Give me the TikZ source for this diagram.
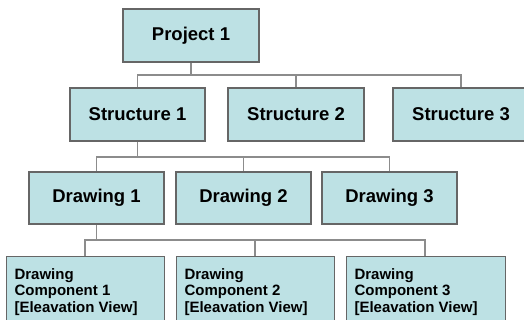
\documentclass[tikz,border=0pt]{standalone}
\usepackage{fontspec}
\setmainfont{Liberation Sans}
\definecolor{boxfill}{HTML}{BDE1E4}
\definecolor{boxline}{HTML}{666666}
\definecolor{connline}{HTML}{8C8C8C}
\begin{document}
\begin{tikzpicture}[x=1pt,y=-1pt,
  box/.style={draw=boxline,fill=boxfill,line width=1.05pt,minimum width=135pt,minimum height=53pt,inner sep=0pt,
    font=\fontsize{18.5}{20}\selectfont\bfseries},
  leafbox/.style={draw=boxline,fill=boxfill,line width=1.05pt,anchor=north west,inner xsep=8pt,inner ysep=11.2pt,
    font=\fontsize{15}{16.5}\selectfont\bfseries},
  conn/.style={draw=connline,line width=1.4pt}]
\useasboundingbox (0,0) rectangle (524,320);
\clip (0,0) rectangle (524,320);
% level 0
\node[box,minimum width=136pt] (p) at (191,35.5) {Project 1};
% level 1
\node[box] (s1) at (137.5,114.5) {Structure 1};
\node[box,minimum width=136pt] (s2) at (296,114.5) {Structure 2};
\node[box,minimum width=136pt] (s3) at (461,114.5) {Structure 3};
% level 2
\node[box,minimum height=52pt] (d1) at (96.5,198) {Drawing 1};
\node[box,minimum height=52pt] (d2) at (243.5,198) {Drawing 2};
\node[box,minimum height=52pt] (d3) at (389.5,198) {Drawing 3};
% level 3
\node[leafbox] (c1) at (6,256) {\parbox[t][62pt][t]{142pt}{\strut Drawing\\Component 1\\{[}Eleavation View]}};
\node[leafbox] (c2) at (176,256) {\parbox[t][62pt][t]{142pt}{\strut Drawing\\Component 2\\{[}Eleavation View]}};
\node[leafbox] (c3) at (346,256) {\parbox[t][62pt][t]{143pt}{\strut Drawing\\Component 3\\{[}Eleavation View]}};
% connectors
\coordinate (b1) at (191,75);
\coordinate (b2) at (137.5,157);
\coordinate (b3) at (96.5,240);
\draw[conn] (p.south) -- (b1);
\draw[conn] (b1) -| (s1.north);
\draw[conn] (b1) -| (s2.north);
\draw[conn] (b1) -| (s3.north);
\draw[conn] (s1.south) -- (b2);
\draw[conn] (b2) -| (d1.north);
\draw[conn] (b2) -| (d2.north);
\draw[conn] (b2) -| (d3.north);
\draw[conn] (d1.south) -- (b3);
\draw[conn] (b3) -| ([xshift=79pt]c1.north west);
\draw[conn] (b3) -| ([xshift=79pt]c2.north west);
\draw[conn] (b3) -| ([xshift=79pt]c3.north west);
\end{tikzpicture}
\end{document}
